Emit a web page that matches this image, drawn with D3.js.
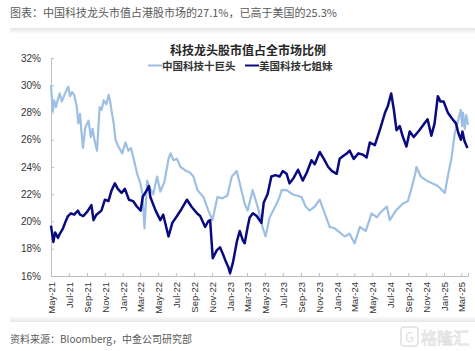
<!DOCTYPE html>
<html>
<head>
<meta charset="utf-8">
<script src="https://cdn.jsdelivr.net/npm/d3@7"></script>
<style>
  body { margin: 0; background: #fff; }
  text { font-family: "Liberation Sans", "Noto Sans CJK SC", sans-serif; }
  .cjk { font-family: "Noto Sans CJK SC", sans-serif; }
</style>
</head>
<body>
<div id="chart"></div>
<script>
// 中国科技十巨头 (light blue)
const cnDates = ['2021-05-01','2021-05-07','2021-05-12','2021-05-18','2021-05-25','2021-05-31','2021-06-07','2021-06-14','2021-06-24','2021-06-29',
  '2021-07-05','2021-07-12','2021-07-19','2021-07-28','2021-08-02','2021-08-08','2021-08-13','2021-08-18','2021-08-26','2021-09-06',
  '2021-09-14','2021-09-20','2021-09-27','2021-10-05','2021-10-14','2021-10-21','2021-10-28','2021-11-06','2021-11-14','2021-11-19',
  '2021-11-23','2021-12-01','2021-12-07','2021-12-17','2021-12-30','2022-01-10','2022-01-20','2022-01-29','2022-02-07','2022-02-19',
  '2022-03-02','2022-03-09','2022-03-16','2022-03-25','2022-04-05','2022-04-15','2022-04-28','2022-05-09','2022-05-23','2022-06-06',
  '2022-06-13','2022-06-23','2022-07-05','2022-07-17','2022-08-06','2022-08-18','2022-08-30','2022-09-13','2022-10-03','2022-10-20',
  '2022-11-03','2022-11-20','2022-12-07','2022-12-24','2023-01-08','2023-01-25','2023-02-04','2023-02-21','2023-03-03','2023-03-20',
  '2023-04-06','2023-04-23','2023-05-03','2023-05-17','2023-06-10','2023-06-20','2023-06-27','2023-07-14','2023-08-03','2023-09-03',
  '2023-09-17','2023-09-30','2023-10-18','2023-11-04','2023-11-21','2023-12-08','2023-12-25','2024-01-11','2024-01-28','2024-02-14',
  '2024-03-02','2024-03-20','2024-04-09','2024-04-29','2024-05-17','2024-05-27','2024-06-20','2024-06-30','2024-07-21','2024-08-13',
  '2024-08-31','2024-09-13','2024-09-25','2024-09-29','2024-10-14','2024-11-03','2024-11-21','2024-12-11','2025-01-04','2025-01-14',
  '2025-01-27','2025-02-07','2025-02-18','2025-02-27','2025-03-04','2025-03-07','2025-03-13','2025-03-18','2025-03-24'];
const cnValues = [30.0,28.1,28.9,28.4,29.0,29.4,28.8,29.2,29.7,29.9,
  29.2,29.5,29.3,28.4,27.2,27.9,26.6,25.4,26.9,27.4,
  26.2,26.8,25.9,25.2,28.4,28.2,28.9,28.6,29.3,28.8,
  28.2,27.2,26.0,25.5,25.0,25.8,25.2,25.4,24.6,23.5,
  22.8,22.0,19.5,23.0,22.4,22.0,23.3,22.2,22.9,24.6,
  25.0,24.5,24.6,24.0,23.7,23.6,23.3,22.3,21.8,20.8,
  20.1,21.8,21.7,21.9,23.3,23.7,22.8,21.3,20.8,22.3,
  21.1,19.6,18.9,20.3,21.3,21.8,22.3,22.3,22.0,21.8,
  21.1,20.8,21.1,21.6,20.6,19.6,19.5,19.2,18.9,19.1,
  18.4,19.6,19.3,20.6,20.3,20.6,21.1,20.1,20.8,21.3,
  21.5,22.5,23.5,24.0,23.3,23.0,22.8,22.6,22.1,23.3,
  24.7,26.5,27.4,28.2,27.0,28.0,26.8,27.8,27.1];

// 美国科技七姐妹 (navy)
const usDates = ['2021-05-01','2021-05-09','2021-05-15','2021-05-20','2021-05-25','2021-05-31','2021-06-11','2021-06-18','2021-06-28','2021-07-08',
  '2021-07-19','2021-08-01','2021-08-08','2021-08-19','2021-09-01','2021-09-16','2021-09-23','2021-10-03','2021-10-20','2021-11-01',
  '2021-11-13','2021-11-24','2021-12-05','2021-12-15','2021-12-28','2022-01-08','2022-01-22','2022-02-05','2022-02-18','2022-03-03',
  '2022-03-10','2022-03-24','2022-03-31','2022-04-05','2022-04-23','2022-05-09','2022-05-19','2022-06-06','2022-06-19','2022-07-05',
  '2022-07-20','2022-08-08','2022-08-23','2022-09-11','2022-09-22','2022-10-09','2022-10-19','2022-10-26','2022-11-04','2022-11-18',
  '2022-11-29','2022-12-09','2022-12-16','2022-12-28','2023-01-02','2023-01-12','2023-01-25','2023-02-04','2023-02-15','2023-02-21',
  '2023-03-03','2023-03-10','2023-03-21','2023-04-03','2023-04-19','2023-04-27','2023-05-10','2023-05-23','2023-06-06','2023-06-20',
  '2023-07-01','2023-07-14','2023-07-24','2023-08-07','2023-08-22','2023-09-07','2023-09-21','2023-10-07','2023-10-18','2023-11-04',
  '2023-11-18','2023-12-03','2023-12-16','2024-01-01','2024-01-11','2024-01-23','2024-02-05','2024-02-14','2024-02-28','2024-03-15',
  '2024-03-31','2024-04-12','2024-04-23','2024-05-10','2024-05-27','2024-06-14','2024-06-24','2024-07-05','2024-07-14','2024-07-23',
  '2024-08-03','2024-08-14','2024-08-26','2024-09-06','2024-09-20','2024-10-09','2024-10-26','2024-11-06','2024-11-19','2024-11-30',
  '2024-12-11','2024-12-20','2024-12-31','2025-01-14','2025-01-27','2025-02-11','2025-02-19','2025-02-28','2025-03-05','2025-03-12',
  '2025-03-22'];
const usValues = [19.7,18.5,19.2,19.0,18.8,19.1,19.5,19.9,20.4,20.6,
  20.5,20.8,20.5,20.4,20.7,21.2,20.1,20.5,20.8,21.6,
  21.5,22.3,22.8,22.4,22.1,22.4,21.6,21.5,21.1,20.8,
  21.8,22.3,22.6,21.8,20.8,20.1,20.5,18.9,19.9,20.4,
  20.9,21.6,21.1,20.6,20.4,19.6,20.0,20.1,17.3,17.9,
  18.1,17.6,17.2,16.6,16.2,17.0,18.5,19.3,18.6,18.4,
  19.6,20.3,20.6,20.4,19.9,21.4,22.0,23.3,23.4,23.3,
  23.7,23.5,22.8,23.2,23.8,23.0,23.6,24.5,24.2,25.1,
  24.6,24.0,23.7,23.5,24.6,24.8,25.0,25.2,24.6,25.0,
  24.9,24.7,25.8,25.6,26.7,28.0,28.5,29.4,28.2,26.7,
  27.0,26.2,25.5,26.6,26.2,26.7,27.2,27.5,26.3,27.2,
  29.2,28.8,28.8,28.0,27.6,27.2,26.5,26.0,26.6,25.9,
  25.4];

const yTicks = [16, 18, 20, 22, 24, 26, 28, 30, 32];
const xTickLabels = ['May-21','Jul-21','Sep-21','Nov-21','Jan-22','Mar-22','May-22','Jul-22','Sep-22','Nov-22','Jan-23','Mar-23',
  'May-23','Jul-23','Sep-23','Nov-23','Jan-24','Mar-24','May-24','Jul-24','Sep-24','Nov-24','Jan-25','Mar-25'];
const seriesNames = ['中国科技十巨头', '美国科技七姐妹'];

const width = 475, height = 351;
const parse = d3.timeParse('%Y-%m-%d');
const fmt = d3.timeFormat('%b-%y');

const cn = cnDates.map((d, i) => ({date: parse(d), v: cnValues[i]}));
const us = usDates.map((d, i) => ({date: parse(d), v: usValues[i]}));

const svg = d3.select('#chart').append('svg')
  .attr('width', width)
  .attr('height', height);

const defs = svg.append('defs');
const grad = defs.append('linearGradient').attr('id', 'shade').attr('x1', 0).attr('y1', 0).attr('x2', 0).attr('y2', 1);
grad.append('stop').attr('offset', '0%').attr('stop-color', '#e4e4e4');
grad.append('stop').attr('offset', '100%').attr('stop-color', '#ffffff');
const grad2 = defs.append('linearGradient').attr('id', 'shade2').attr('x1', 0).attr('y1', 0).attr('x2', 0).attr('y2', 1);
grad2.append('stop').attr('offset', '0%').attr('stop-color', '#ffffff');
grad2.append('stop').attr('offset', '100%').attr('stop-color', '#e6e6e6');

// header + shadows
svg.append('text').attr('class', 'cjk')
  .attr('x', 10).attr('y', 17)
  .attr('font-size', 11).attr('fill', '#595959')
  .text('图表：中国科技龙头市值占港股市场的27.1%，已高于美国的25.3%');
svg.append('rect').attr('x', 10).attr('y', 28).attr('width', 465).attr('height', 6).attr('fill', 'url(#shade)');
svg.append('rect').attr('x', 10).attr('y', 316).attr('width', 465).attr('height', 6).attr('fill', 'url(#shade2)');

svg.append('text').attr('class', 'cjk')
  .attr('x', 10).attr('y', 343)
  .attr('font-size', 10).attr('fill', '#595959')
  .text('资料来源：Bloomberg，中金公司研究部');

// scales
const x = d3.scaleTime()
  .domain([parse('2021-05-01'), parse('2025-03-24')])
  .range([51, 468]);
const y = d3.scaleLinear()
  .domain([16, 32])
  .range([276, 58]);

// y axis
const yAxis = d3.axisLeft(y)
  .tickValues(yTicks)
  .tickSize(-3)
  .tickPadding(10)
  .tickFormat(d => d + '%');
const gy = svg.append('g').attr('transform', 'translate(51,0)').call(yAxis);
gy.select('.domain').attr('stroke', '#bfbfbf');
gy.selectAll('.tick line').attr('stroke', '#bfbfbf');
gy.selectAll('text').attr('font-size', 10).attr('fill', '#333').attr('font-family', 'Liberation Sans');

// x axis
const xTickDates = xTickLabels.map(s => d3.timeParse('%b-%y')(s));
const xAxis = d3.axisBottom(x)
  .tickValues(xTickDates)
  .tickSize(-3)
  .tickFormat(fmt);
const gx = svg.append('g').attr('transform', 'translate(0,276)').call(xAxis);
gx.select('.domain').attr('stroke', '#bfbfbf');
gx.selectAll('.tick line').attr('stroke', '#bfbfbf');
gx.selectAll('text')
  .attr('font-size', 9.5).attr('fill', '#333').attr('font-family', 'Liberation Sans')
  .attr('transform', 'rotate(-90)')
  .attr('text-anchor', 'end')
  .attr('x', -6).attr('y', 0).attr('dy', '0.35em');

// lines
const line = d3.line()
  .x(d => x(d.date))
  .y(d => y(d.v));

svg.append('path').datum(cn)
  .attr('fill', 'none')
  .attr('stroke', '#9dbfe3')
  .attr('stroke-width', 2.2)
  .attr('stroke-linejoin', 'round')
  .attr('d', line);

svg.append('path').datum(us)
  .attr('fill', 'none')
  .attr('stroke', '#0a0a80')
  .attr('stroke-width', 2.5)
  .attr('stroke-linejoin', 'round')
  .attr('d', line);

// title + legend
svg.append('text').attr('class', 'cjk')
  .attr('x', 248).attr('y', 55)
  .attr('text-anchor', 'middle')
  .attr('font-size', 12).attr('font-weight', 'bold').attr('fill', '#262626')
  .text('科技龙头股市值占全市场比例');

const legendX = [148, 245];
const legendColors = ['#9dbfe3', '#0a0a80'];
seriesNames.forEach((name, i) => {
  svg.append('line')
    .attr('x1', legendX[i]).attr('x2', legendX[i] + 14)
    .attr('y1', 65.5).attr('y2', 65.5)
    .attr('stroke', legendColors[i]).attr('stroke-width', 2);
  svg.append('text').attr('class', 'cjk')
    .attr('x', legendX[i] + 14).attr('y', 69.5)
    .attr('font-size', 10.5).attr('font-weight', 'bold').attr('fill', '#333')
    .text(name);
});

// watermark
const wm = svg.append('g').attr('opacity', 0.55);
wm.append('rect').attr('x', 401).attr('y', 327).attr('width', 17).attr('height', 19).attr('rx', 3)
  .attr('fill', 'none').attr('stroke', '#c8c8c8').attr('stroke-width', 1.5);
wm.append('text').attr('class', 'cjk')
  .attr('x', 405).attr('y', 342).attr('font-size', 13).attr('fill', '#c8c8c8').text('G');
wm.append('text').attr('class', 'cjk')
  .attr('x', 421).attr('y', 344)
  .attr('font-size', 16).attr('fill', 'none').attr('stroke', '#c8c8c8').attr('stroke-width', 0.8)
  .text('格隆汇');
</script>
</body>
</html>
